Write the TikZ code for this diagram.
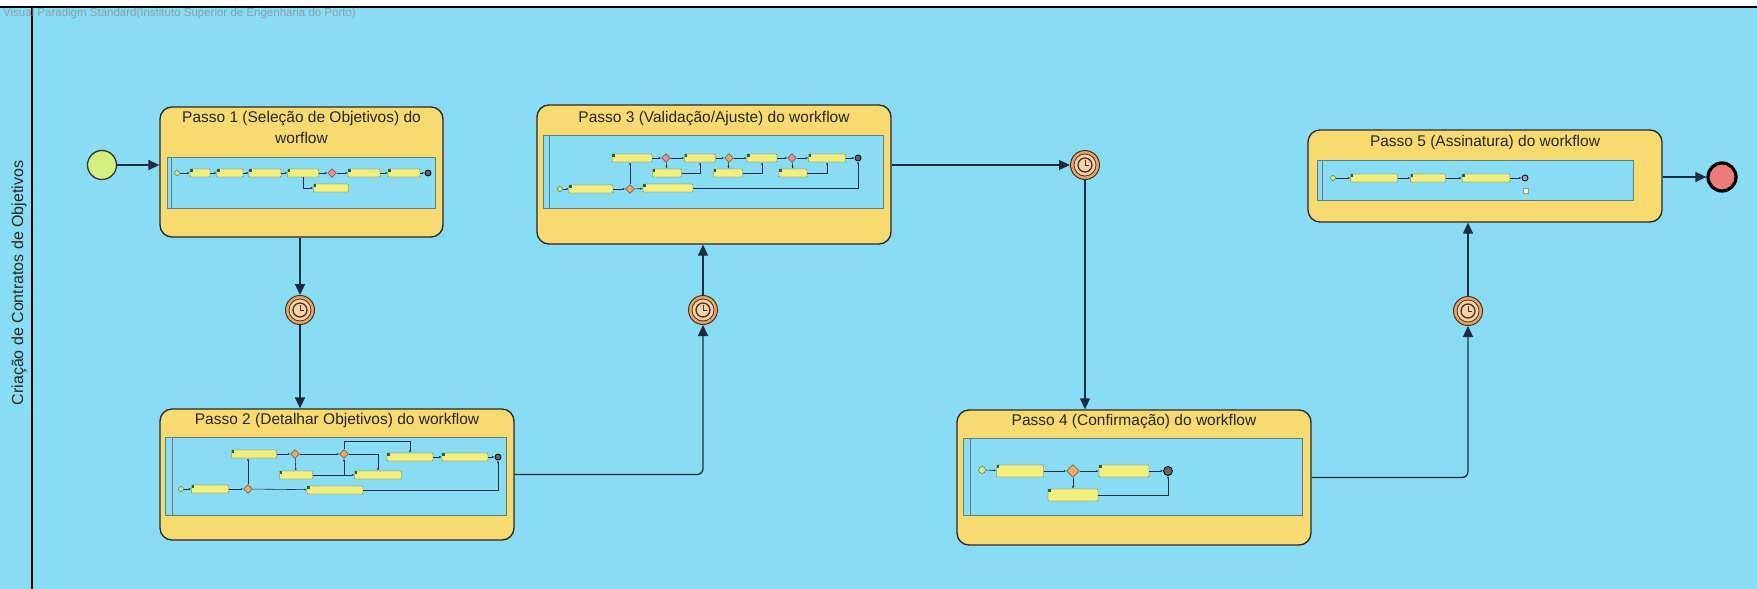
\documentclass[tikz,border=0pt]{standalone}
\usepackage{fontspec}
\setmainfont{Liberation Sans}
\usepackage{tikz}
\usetikzlibrary{positioning,arrows.meta,shapes.geometric,calc}
\definecolor{bgblue}{HTML}{88DCF4}
\definecolor{boxyel}{HTML}{F8DB70}
\definecolor{lnk}{HTML}{1F2A44}
\definecolor{tmrfill}{HTML}{E9A463}
\definecolor{tmrin}{HTML}{F7D3A8}
\definecolor{tmrline}{HTML}{4A3020}
\definecolor{stgreen}{HTML}{D2F07E}
\definecolor{endred}{HTML}{EE7B7B}
\definecolor{mtkfill}{HTML}{F3EF7E}
\definecolor{mtkline}{HTML}{6A6430}
\definecolor{mfrline}{HTML}{5E7F86}
\definecolor{gwfill}{HTML}{F2A860}
\definecolor{gwpink}{HTML}{F08C8C}
\definecolor{icogreen}{HTML}{2F5F3A}
\definecolor{wmgray}{HTML}{8C9EAE}
\tikzset{
  sub/.style={rectangle,rounded corners=12pt,draw=black!85,fill=boxyel,
    line width=1.3pt,inner sep=0},
  ttl/.style={font=\fontsize{15.5}{21}\selectfont,align=center,inner sep=0,text=black!85},
  ar/.style={-{Triangle[length=11pt,width=10pt]},line width=1.3pt,draw=lnk},
  stev/.style={circle,draw=black!80,fill=stgreen,line width=1.3pt,minimum size=29pt,inner sep=0},
  endev/.style={circle,draw=black,fill=endred,line width=3.2pt,minimum size=28pt,inner sep=0},
  tmr/.style={circle,draw=tmrline,fill=tmrfill,line width=1pt,minimum size=29pt,inner sep=0,
    path picture={
      \draw[tmrline,fill=tmrin,line width=0.8pt] (path picture bounding box.center) circle (11pt);
      \draw[tmrline,fill=tmrin,line width=1.3pt] (path picture bounding box.center) circle (7pt);
      \draw[tmrline,line width=1pt] (path picture bounding box.center) -- ++(0pt,5pt)
        (path picture bounding box.center) -- ++(4pt,0pt);}},
  mfr/.style={draw=mfrline,line width=0.8pt},
  mtk/.style={rectangle,draw=mtkline,fill=mtkfill,line width=0.4pt,rounded corners=0.8pt,
    minimum height=8pt,inner sep=0,minimum width=#1pt,label={[mico]north west:{}}},
  mico/.style={fill=icogreen,inner sep=0,minimum size=2.5pt,anchor=center,xshift=1.5pt,yshift=-1.5pt},
  mgw/.style={diamond,draw=tmrline,fill=gwfill,line width=0.4pt,minimum size=9pt,inner sep=0},
  mst/.style={circle,draw=black!70,fill=stgreen,line width=0.4pt,minimum size=5pt,inner sep=0},
  men/.style={circle,draw=black,fill=black!60,line width=0.8pt,minimum size=6pt,inner sep=0},
  mln/.style={-{Latex[length=2.5pt,width=2pt]},line width=0.6pt,draw=lnk},
  wmark/.style={anchor=west,font=\fontsize{11.5}{13}\selectfont,text=wmgray,inner sep=0},
  lane/.style={rotate=90,font=\fontsize{16}{19}\selectfont,text=black!85,inner sep=0},
}
\begin{document}
\begin{tikzpicture}[x=1pt,y=-1pt]
  \useasboundingbox (0,0) rectangle (1757,589);
  \fill[white] (0,0) rectangle (1757,589);
  \fill[bgblue] (0,7) rectangle (1757,589);
  \draw[line width=1.2pt] (0,7) -- (1757,7);
  \draw[line width=2.2pt] (32,7) -- (32,589);
  \node[wmark] (vp) at (3,14) {Visual Paradigm Standard(Instituto Superior de Engenharia do Porto)};
  \node[lane] (lane) at (19,283) {Criação de Contratos de Objetivos};

  % main flow
  \node[stev] (start) at (102,165) {};
  \node[sub,minimum width=283pt,minimum height=130pt] (p1) at (301.5,172) {};
  \node[sub,minimum width=354pt,minimum height=131pt] (p2) at (337,474.5) {};
  \node[sub,minimum width=354pt,minimum height=139pt] (p3) at (714,174.5) {};
  \node[sub,minimum width=354pt,minimum height=135pt] (p4) at (1134,477.5) {};
  \node[sub,minimum width=354pt,minimum height=92pt] (p5) at (1485,176) {};
  \node[endev] (fin) at (1722,177) {};
  \node[tmr] (t1) at (300,310) {};
  \node[tmr] (t2) at (703,310) {};
  \node[tmr] (t3) at (1085,165) {};
  \node[tmr] (t4) at (1468,311) {};

  \node[ttl] (p1t) at ([yshift=-21.5pt]p1.north) {Passo 1 (Seleção de Objetivos) do\\worflow};
  \node[ttl] (p2t) at ([yshift=-12pt]p2.north) {Passo 2 (Detalhar Objetivos) do workflow};
  \node[ttl] (p3t) at ([yshift=-14pt]p3.north) {Passo 3 (Validação/Ajuste) do workflow};
  \node[ttl] (p4t) at ([yshift=-12pt]p4.north) {Passo 4 (Confirmação) do workflow};
  \node[ttl] (p5t) at ([yshift=-13pt]p5.north) {Passo 5 (Assinatura) do workflow};

  \draw[ar] (start) -- (start -| p1.west);
  \draw[ar] (p1.south -| t1) -- (t1);
  \draw[ar] (t1) -- (t1 |- p2.north);
  \draw[ar,rounded corners=6pt] (p2.east) -| (t2);
  \draw[ar] (t2) -- (t2 |- p3.south);
  \draw[ar] (p3.east |- t3) -- (t3);
  \draw[ar] (t3) -- (t3 |- p4.north);
  \draw[ar,rounded corners=6pt] (p4.east) -| (t4);
  \draw[ar] (t4) -- (t4 |- p5.south);
  \draw[ar] (p5.east |- fin) -- (fin);

  % thumbnail passo 1
  \fill[bgblue] (167,157) rectangle (435,208);
  \draw[mfr] (167,157) rectangle (435,208) (171,157) -- (171,208);
  \node[mst] (a0) at (177,173) {};
  \node[mtk=20] (a1) at (200,173) {};
  \node[mtk=26] (a2) at (230,173) {};
  \node[mtk=32] (a3) at (265,173) {};
  \node[mtk=31] (a4) at (303,173) {};
  \node[mgw,fill=gwpink] (a5) at (332,173) {};
  \node[mtk=32] (a6) at (364,173) {};
  \node[mtk=32] (a7) at (404,173) {};
  \node[men] (a8) at (428,173) {};
  \node[mtk=35] (a9) at (331,188) {};
  \foreach \u/\v in {a0/a1,a1/a2,a2/a3,a3/a4,a4/a5,a5/a6,a6/a7,a7/a8} \draw[mln] (\u)--(\v);
  \draw[mln] (a4.south) |- (a9);

  % thumbnail passo 2
  \fill[bgblue] (165,437) rectangle (506,515);
  \draw[mfr] (165,437) rectangle (506,515) (172,437) -- (172,515);
  \node[mst] (b0) at (181,489) {};
  \node[mtk=37] (b1) at (210,489) {};
  \node[mgw] (b2) at (248,489) {};
  \node[mtk=45] (b3) at (254,454) {};
  \node[mtk=56] (b4) at (335,490) {};
  \node[mgw] (b5) at (295,454) {};
  \node[mtk=33] (b6) at (296,475) {};
  \node[mgw] (b7) at (344,454) {};
  \node[mtk=47] (b8) at (378,475) {};
  \node[mtk=46] (b9) at (410,457) {};
  \node[mtk=46] (b10) at (465,457) {};
  \node[men] (b11) at (498,457) {};
  \foreach \u/\v in {b0/b1,b1/b2,b2/b4,b3/b5,b5/b6,b5/b7,b6/b8,b9/b10,b10/b11} \draw[mln] (\u)--(\v);
  \draw[mln] (b2) -- (b2 |- b3.south);
  \draw[mln] (b7) -| (b8.north);
  \draw[mln] (b7 |- b6) -- (b7);
  \draw[mln] (b7.north) -- ++(0,-8) -| (b9.north);
  \draw[mln] (b4) -| (b11);

  % thumbnail passo 3
  \fill[bgblue] (543,135) rectangle (883,208);
  \draw[mfr] (543,135) rectangle (883,208) (549,135) -- (549,208);
  \node[mst] (c0) at (560,189) {};
  \node[mtk=44] (c1) at (591,189) {};
  \node[mgw] (c2) at (630,189) {};
  \node[mtk=40] (c3) at (632,158) {};
  \node[mtk=50] (c4) at (668,188) {};
  \node[mgw,fill=gwpink] (c5) at (666,158) {};
  \node[mtk=29] (c6) at (667,173) {};
  \node[mtk=31] (c7) at (700,158) {};
  \node[mgw] (c8) at (729,158) {};
  \node[mtk=29] (c9) at (728,173) {};
  \node[mtk=30] (c10) at (762,158) {};
  \node[mgw,fill=gwpink] (c11) at (792,158) {};
  \node[mtk=28] (c12) at (793,173) {};
  \node[mtk=37] (c13) at (827,158) {};
  \node[men] (c14) at (858,158) {};
  \foreach \u/\v in {c0/c1,c1/c2,c2/c4,c3/c5,c5/c6,c5/c7,c7/c8,c8/c9,c8/c10,c10/c11,c11/c12,c11/c13,c13/c14} \draw[mln] (\u)--(\v);
  \draw[mln] (c2) -- (c2 |- c3.south);
  \draw[mln] (c4) -| (c14);
  \draw[mln] (c6.east) -| (c7.south);
  \draw[mln] (c9.east) -| (c10.south);
  \draw[mln] (c12.east) -| (c13.south);

  % thumbnail passo 4
  \fill[bgblue] (963,438) rectangle (1302,515);
  \draw[mfr] (963,438) rectangle (1302,515) (970,438) -- (970,515);
  \node[mst,minimum size=7pt] (d0) at (982,470) {};
  \node[mtk=47,minimum height=12pt] (d1) at (1020,471) {};
  \node[mgw,minimum size=13pt] (d2) at (1073,471) {};
  \node[mtk=50,minimum height=12pt] (d3) at (1124,471) {};
  \node[men,minimum size=9pt] (d4) at (1168,471) {};
  \node[mtk=50,minimum height=12pt] (d5) at (1073,495) {};
  \foreach \u/\v in {d0/d1,d1/d2,d2/d3,d3/d4,d2/d5} \draw[mln] (\u)--(\v);
  \draw[mln] (d5) -| (d4);

  % thumbnail passo 5
  \fill[bgblue] (1317,160) rectangle (1633,200);
  \draw[mfr] (1317,160) rectangle (1633,200) (1322,160) -- (1322,200);
  \node[mst] (e0) at (1333,178) {};
  \node[mtk=47] (e1) at (1374,178) {};
  \node[mtk=35] (e2) at (1428,178) {};
  \node[mtk=48] (e3) at (1486,178) {};
  \node[men,fill=black!35] (e4) at (1525,178) {};
  \node[rectangle,draw=black!40,fill=mtkfill!60,minimum size=5pt,inner sep=0] (e5) at (1526,191) {};
  \foreach \u/\v in {e0/e1,e1/e2,e2/e3,e3/e4} \draw[mln] (\u)--(\v);
\end{tikzpicture}
\end{document}
